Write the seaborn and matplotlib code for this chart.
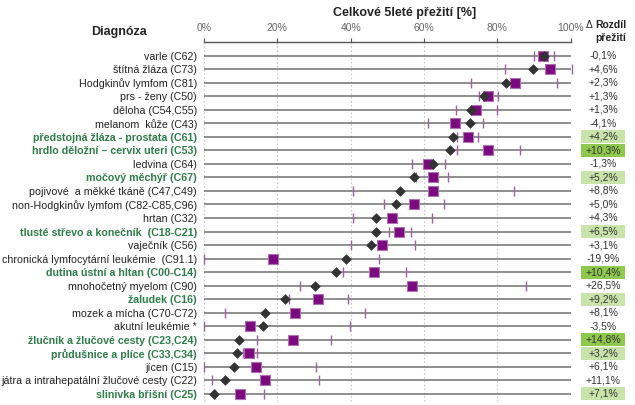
import pandas as pd
import matplotlib.pyplot as plt
import seaborn as sns
from matplotlib.patches import Rectangle

labels = [
    "varle (C62)",
    "štítná žláza (C73)",
    "Hodgkinův lymfom (C81)",
    "prs - ženy (C50)",
    "děloha (C54,C55)",
    "melanom  kůže (C43)",
    "předstojná žláza - prostata (C61)",
    "hrdlo děložní – cervix uteri (C53)",
    "ledvina (C64)",
    "močový měchýř (C67)",
    "pojivové  a měkké tkáně (C47,C49)",
    "non-Hodgkinův lymfom (C82-C85,C96)",
    "hrtan (C32)",
    "tlusté střevo a konečník  (C18-C21)",
    "vaječník (C56)",
    "chronická lymfocytární leukémie  (C91.1)",
    "dutina ústní a hltan (C00-C14)",
    "mnohočetný myelom (C90)",
    "žaludek (C16)",
    "mozek a mícha (C70-C72)",
    "akutní leukémie *",
    "žlučník a žlučové cesty (C23,C24)",
    "průdušnice a plíce (C33,C34)",
    "jícen (C15)",
    "játra a intrahepatální žlučové cesty (C22)",
    "slinivka břišní (C25)",
]

# earlier period (diamond) and recent period (square) with its interval
survival_old = [92.7, 89.7, 82.5, 76.3, 72.9, 72.6, 67.8, 67.2, 62.4, 57.2, 53.6, 52.3, 47.0,
                46.8, 45.5, 38.6, 35.9, 30.2, 22.0, 16.7, 16.1, 9.6, 9.0, 8.2, 5.6, 2.6]
survival_new = [92.6, 94.3, 84.8, 77.6, 74.2, 68.5, 72.0, 77.5, 61.1, 62.4, 62.4, 57.3, 51.3,
                53.3, 48.6, 18.7, 46.3, 56.7, 31.2, 24.8, 12.6, 24.4, 12.2, 14.3, 16.7, 9.7]
ci_low = [89.9, 82.2, 72.9, 75.0, 68.7, 61.2, 69.0, 69.0, 56.7, 57.9, 40.7, 49.0, 40.7,
          50.4, 40.0, 0.0, 37.8, 26.2, 23.2, 5.8, 0.0, 14.4, 10.6, 0.0, 2.3, 2.9]
ci_high = [95.4, 100.3, 96.2, 80.1, 79.8, 76.2, 74.8, 86.3, 65.8, 66.6, 84.5, 65.5, 62.3,
           56.4, 57.5, 47.6, 55.0, 87.8, 39.2, 43.8, 39.8, 34.7, 14.4, 30.5, 31.3, 16.4]
delta = [-0.1, 4.6, 2.3, 1.3, 1.3, -4.1, 4.2, 10.3, -1.3, 5.2, 8.8, 5.0, 4.3,
         6.5, 3.1, -19.9, 10.4, 26.5, 9.2, 8.1, -3.5, 14.8, 3.2, 6.1, 11.1, 7.1]
# 0 = plain, 1 = light green, 2 = strong green
highlight = [0, 0, 0, 0, 0, 0, 1, 2, 0, 1, 0, 0, 0, 1, 0, 0, 2, 0, 1, 0, 0, 2, 1, 0, 0, 1]

x_ticks = [0, 20, 40, 60, 80, 100]

FONT = ["Liberation Sans", "DejaVu Sans"]
GREEN_TEXT = "#2f7d4a"
BOX_COLORS = {1: "#c8e4ab", 2: "#8ec94e"}

df = pd.DataFrame({
    "row": range(len(labels)),
    "label": labels,
    "old": survival_old,
    "new": survival_new,
    "lo": ci_low,
    "hi": ci_high,
})
ci = pd.concat([
    df[["row", "lo"]].rename(columns={"lo": "x"}),
    df[["row", "hi"]].rename(columns={"hi": "x"}),
])

sns.set_theme(style="white")
plt.rcParams["font.family"] = FONT

W, H = 635, 405
fig = plt.figure(figsize=(W / 100, H / 100), dpi=100)
px = 3.666  # pixels per percent
x0 = 204    # pixel of 0 %
xmin, xmax = -1.5, 101.5
ax = fig.add_axes([(x0 + xmin * px) / W, 3 / H, (xmax - xmin) * px / W, 360.3 / H])

n = len(labels)
ax.set_xlim(xmin, xmax)
ax.set_ylim(n - 0.4, -1.03)

# dotted grid and row lines
ax.vlines([0, 20, 40, 60, 80], -1.03, n - 0.4, color="#c8c8c8", lw=0.8,
          linestyles=(0, (1.5, 2)), zorder=0)
ax.hlines(df["row"], 0, 100, color="#707070", lw=1.1, zorder=1)

sns.scatterplot(data=ci, x="x", y="row", marker="|", s=55, color="#a060a0",
                linewidth=1.0, ax=ax, zorder=2, legend=False)
sns.scatterplot(data=df, x="new", y="row", marker="s", s=48, color="#7b0a7f",
                edgecolor="#b070b4", linewidth=0.8, ax=ax, zorder=3, legend=False)
sns.scatterplot(data=df, x="old", y="row", marker="D", s=24, color="#333333",
                edgecolor="#333333", linewidth=0.5, ax=ax, zorder=4, legend=False)

# top axis
for s in ["left", "right", "bottom"]:
    ax.spines[s].set_visible(False)
ax.spines["top"].set_bounds(0, 100)
ax.spines["top"].set_color("#555555")
ax.spines["top"].set_linewidth(1.0)
ax.xaxis.tick_top()
ax.set_xticks(x_ticks)
ax.set_xticklabels([f"{t}%" for t in x_ticks], fontsize=7.5, color="#666666")
ax.tick_params(axis="x", direction="out", length=3, width=0.8, color="#555555", pad=3)
ax.set_xlabel("")
ax.set_ylabel("")

ax.set_yticks(df["row"])
ax.set_yticklabels(labels, fontsize=7.7)
ax.tick_params(axis="y", length=0, pad=1)
for lab, h in zip(ax.get_yticklabels(), highlight):
    if h:
        lab.set_color(GREEN_TEXT)
        lab.set_fontweight("bold")
    else:
        lab.set_color("#222222")

# difference column
bx0 = (581 - x0) / px
bw = 44 / px
for i, (d, h) in enumerate(zip(delta, highlight)):
    if h:
        ax.add_patch(Rectangle((bx0, i - 0.48), bw, 0.96, facecolor=BOX_COLORS[h],
                               edgecolor="none", clip_on=False, zorder=1))
    txt = f"{d:+.1f}%".replace(".", ",")
    ax.text(bx0 + bw / 2, i, txt, ha="center", va="center", fontsize=7.5,
            color="#333333", clip_on=False, zorder=2)

fig.text(405 / W, 1 - 13 / H, "Celkové 5leté přežití [%]", ha="center", va="center",
         fontsize=9, fontweight="bold", color="#222222")
fig.text(119 / W, 1 - 32 / H, "Diagnóza", ha="center", va="center",
         fontsize=9, fontweight="bold", color="#222222")
fig.text(586 / W, 1 - 25 / H, "Δ", ha="left", va="center", fontsize=7.5, color="#222222")
fig.text(626 / W, 1 - 25 / H, "Rozdíl", ha="right", va="center", fontsize=7.5,
         fontweight="bold", color="#222222")
fig.text(626 / W, 1 - 38 / H, "přežití", ha="right", va="center", fontsize=7.5,
         fontweight="bold", color="#222222")

fig.savefig("out.png", dpi=100)
